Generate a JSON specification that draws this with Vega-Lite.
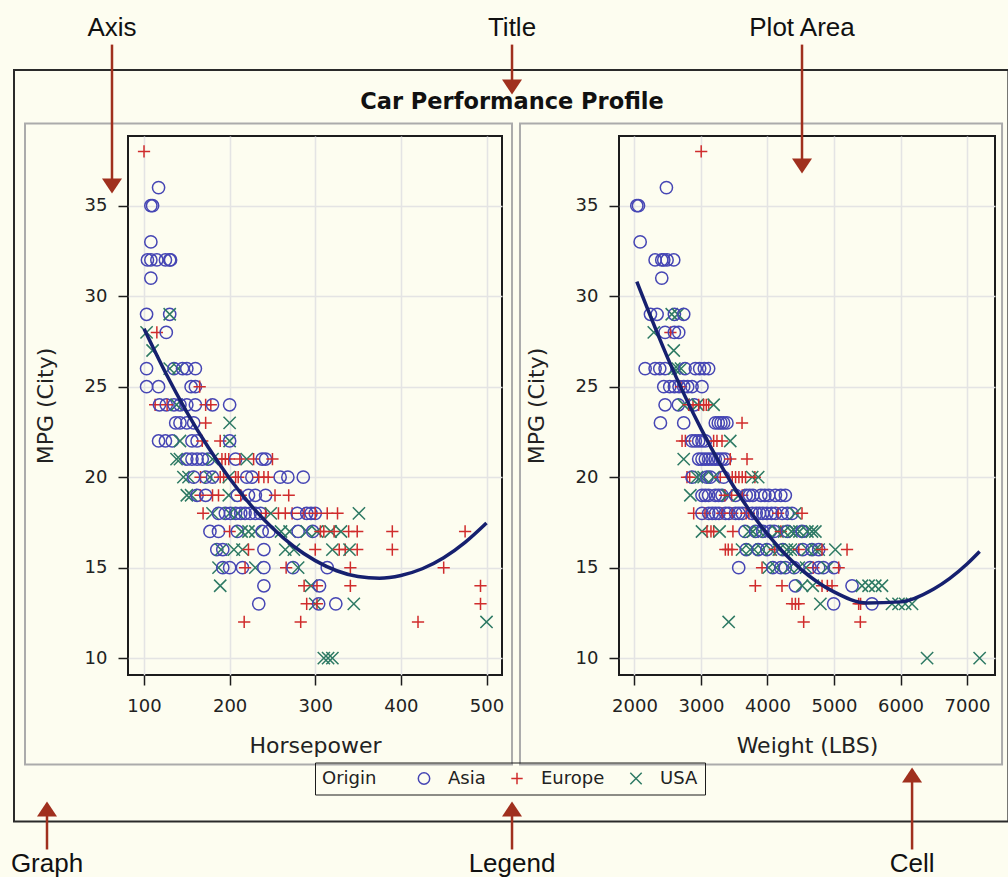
{
  "$schema": "https://vega.github.io/schema/vega-lite/v6.json",
  "background": "#FDFDF0",
  "padding": 0,
  "bounds": "flush",
  "spacing": 117,
  "datasets": {
    "hpPoints": [
      {"origin":"Europe","hp":100,"mpg":38},
      {"origin":"Asia","hp":117,"mpg":36},
      {"origin":"Asia","hp":108,"mpg":35},{"origin":"Asia","hp":110,"mpg":35},
      {"origin":"Asia","hp":108,"mpg":33},
      {"origin":"Asia","hp":104,"mpg":32},{"origin":"Asia","hp":108,"mpg":32},{"origin":"Asia","hp":115,"mpg":32},{"origin":"Asia","hp":125,"mpg":32},{"origin":"Asia","hp":130,"mpg":32},{"origin":"Asia","hp":131,"mpg":32},
      {"origin":"Asia","hp":108,"mpg":31},
      {"origin":"Asia","hp":103,"mpg":29},{"origin":"Asia","hp":130,"mpg":29},{"origin":"USA","hp":130,"mpg":29},
      {"origin":"USA","hp":103,"mpg":28},{"origin":"Europe","hp":115,"mpg":28},{"origin":"Asia","hp":126,"mpg":28},
      {"origin":"USA","hp":110,"mpg":27},
      {"origin":"Asia","hp":103,"mpg":26},{"origin":"USA","hp":130,"mpg":26},{"origin":"Asia","hp":135,"mpg":26},{"origin":"USA","hp":140,"mpg":26},{"origin":"Asia","hp":145,"mpg":26},{"origin":"Asia","hp":150,"mpg":26},{"origin":"Asia","hp":160,"mpg":26},
      {"origin":"Asia","hp":103,"mpg":25},{"origin":"Asia","hp":117,"mpg":25},{"origin":"Asia","hp":155,"mpg":25},{"origin":"Asia","hp":160,"mpg":25},{"origin":"Europe","hp":165,"mpg":25},
      {"origin":"Europe","hp":113,"mpg":24},{"origin":"Asia","hp":118,"mpg":24},{"origin":"Asia","hp":126,"mpg":24},{"origin":"Europe","hp":127,"mpg":24},{"origin":"Asia","hp":135,"mpg":24},{"origin":"USA","hp":138,"mpg":24},{"origin":"Asia","hp":142,"mpg":24},{"origin":"Asia","hp":150,"mpg":24},{"origin":"Asia","hp":160,"mpg":24},{"origin":"Europe","hp":172,"mpg":24},{"origin":"Europe","hp":178,"mpg":24},{"origin":"Asia","hp":180,"mpg":24},{"origin":"Asia","hp":200,"mpg":24},
      {"origin":"Asia","hp":137,"mpg":23},{"origin":"Asia","hp":142,"mpg":23},{"origin":"Asia","hp":150,"mpg":23},{"origin":"Asia","hp":158,"mpg":23},{"origin":"Europe","hp":172,"mpg":23},{"origin":"USA","hp":200,"mpg":23},
      {"origin":"Asia","hp":117,"mpg":22},{"origin":"Asia","hp":125,"mpg":22},{"origin":"Asia","hp":133,"mpg":22},{"origin":"USA","hp":142,"mpg":22},{"origin":"Asia","hp":156,"mpg":22},{"origin":"Asia","hp":162,"mpg":22},{"origin":"Europe","hp":168,"mpg":22},{"origin":"Europe","hp":189,"mpg":22},{"origin":"USA","hp":200,"mpg":22},{"origin":"Asia","hp":200,"mpg":22},
      {"origin":"USA","hp":138,"mpg":21},{"origin":"USA","hp":142,"mpg":21},{"origin":"Asia","hp":150,"mpg":21},{"origin":"Asia","hp":156,"mpg":21},{"origin":"Asia","hp":162,"mpg":21},{"origin":"Asia","hp":168,"mpg":21},{"origin":"Asia","hp":175,"mpg":21},{"origin":"USA","hp":180,"mpg":21},{"origin":"Europe","hp":191,"mpg":21},{"origin":"Europe","hp":195,"mpg":21},{"origin":"Europe","hp":199,"mpg":21},{"origin":"Asia","hp":207,"mpg":21},{"origin":"Europe","hp":212,"mpg":21},{"origin":"USA","hp":220,"mpg":21},{"origin":"Europe","hp":228,"mpg":21},{"origin":"Asia","hp":238,"mpg":21},{"origin":"Asia","hp":242,"mpg":21},{"origin":"Europe","hp":250,"mpg":21},
      {"origin":"USA","hp":146,"mpg":20},{"origin":"USA","hp":152,"mpg":20},{"origin":"Asia","hp":158,"mpg":20},{"origin":"Europe","hp":166,"mpg":20},{"origin":"Asia","hp":172,"mpg":20},{"origin":"USA","hp":177,"mpg":20},{"origin":"Asia","hp":180,"mpg":20},{"origin":"Europe","hp":189,"mpg":20},{"origin":"Europe","hp":193,"mpg":20},{"origin":"USA","hp":199,"mpg":20},{"origin":"Europe","hp":207,"mpg":20},{"origin":"Europe","hp":210,"mpg":20},{"origin":"Asia","hp":220,"mpg":20},{"origin":"Asia","hp":226,"mpg":20},{"origin":"Europe","hp":234,"mpg":20},{"origin":"Europe","hp":240,"mpg":20},{"origin":"Europe","hp":245,"mpg":20},{"origin":"Asia","hp":259,"mpg":20},{"origin":"Asia","hp":268,"mpg":20},{"origin":"Asia","hp":286,"mpg":20},
      {"origin":"USA","hp":150,"mpg":19},{"origin":"USA","hp":155,"mpg":19},{"origin":"Asia","hp":162,"mpg":19},{"origin":"Europe","hp":166,"mpg":19},{"origin":"Asia","hp":172,"mpg":19},{"origin":"Europe","hp":180,"mpg":19},{"origin":"Europe","hp":187,"mpg":19},{"origin":"USA","hp":199,"mpg":19},{"origin":"Asia","hp":209,"mpg":19},{"origin":"Europe","hp":213,"mpg":19},{"origin":"Asia","hp":222,"mpg":19},{"origin":"Asia","hp":230,"mpg":19},{"origin":"Asia","hp":242,"mpg":19},{"origin":"Europe","hp":253,"mpg":19},{"origin":"Europe","hp":269,"mpg":19},
      {"origin":"Europe","hp":169,"mpg":18},{"origin":"USA","hp":180,"mpg":18},{"origin":"Asia","hp":187,"mpg":18},{"origin":"Asia","hp":195,"mpg":18},{"origin":"USA","hp":200,"mpg":18},{"origin":"Asia","hp":201,"mpg":18},{"origin":"Asia","hp":207,"mpg":18},{"origin":"USA","hp":210,"mpg":18},{"origin":"Asia","hp":213,"mpg":18},{"origin":"Asia","hp":218,"mpg":18},{"origin":"Asia","hp":224,"mpg":18},{"origin":"Asia","hp":230,"mpg":18},{"origin":"Asia","hp":236,"mpg":18},{"origin":"Europe","hp":242,"mpg":18},{"origin":"USA","hp":248,"mpg":18},{"origin":"Europe","hp":257,"mpg":18},{"origin":"Europe","hp":265,"mpg":18},{"origin":"Europe","hp":273,"mpg":18},{"origin":"Asia","hp":279,"mpg":18},{"origin":"Europe","hp":287,"mpg":18},{"origin":"Asia","hp":290,"mpg":18},{"origin":"Asia","hp":295,"mpg":18},{"origin":"Asia","hp":300,"mpg":18},{"origin":"Europe","hp":300,"mpg":18},{"origin":"Europe","hp":314,"mpg":18},{"origin":"Europe","hp":326,"mpg":18},{"origin":"USA","hp":351,"mpg":18},
      {"origin":"Asia","hp":177,"mpg":17},{"origin":"Asia","hp":187,"mpg":17},{"origin":"Europe","hp":200,"mpg":17},{"origin":"Asia","hp":209,"mpg":17},{"origin":"USA","hp":214,"mpg":17},{"origin":"USA","hp":222,"mpg":17},{"origin":"USA","hp":230,"mpg":17},{"origin":"Asia","hp":238,"mpg":17},{"origin":"Asia","hp":246,"mpg":17},{"origin":"USA","hp":260,"mpg":17},{"origin":"USA","hp":270,"mpg":17},{"origin":"Asia","hp":280,"mpg":17},{"origin":"USA","hp":290,"mpg":17},{"origin":"Asia","hp":297,"mpg":17},{"origin":"USA","hp":302,"mpg":17},{"origin":"Europe","hp":306,"mpg":17},{"origin":"Europe","hp":310,"mpg":17},{"origin":"USA","hp":318,"mpg":17},{"origin":"Europe","hp":322,"mpg":17},{"origin":"USA","hp":330,"mpg":17},{"origin":"Europe","hp":339,"mpg":17},{"origin":"Europe","hp":349,"mpg":17},{"origin":"Europe","hp":390,"mpg":17},{"origin":"Europe","hp":475,"mpg":17},
      {"origin":"Asia","hp":185,"mpg":16},{"origin":"USA","hp":190,"mpg":16},{"origin":"Asia","hp":192,"mpg":16},{"origin":"USA","hp":205,"mpg":16},{"origin":"USA","hp":215,"mpg":16},{"origin":"Europe","hp":222,"mpg":16},{"origin":"Asia","hp":240,"mpg":16},{"origin":"USA","hp":265,"mpg":16},{"origin":"USA","hp":275,"mpg":16},{"origin":"Europe","hp":300,"mpg":16},{"origin":"USA","hp":320,"mpg":16},{"origin":"Europe","hp":328,"mpg":16},{"origin":"Europe","hp":335,"mpg":16},{"origin":"USA","hp":340,"mpg":16},{"origin":"Europe","hp":349,"mpg":16},{"origin":"Europe","hp":390,"mpg":16},
      {"origin":"USA","hp":187,"mpg":15},{"origin":"Asia","hp":192,"mpg":15},{"origin":"Asia","hp":200,"mpg":15},{"origin":"Asia","hp":215,"mpg":15},{"origin":"Europe","hp":218,"mpg":15},{"origin":"USA","hp":230,"mpg":15},{"origin":"Asia","hp":240,"mpg":15},{"origin":"Europe","hp":266,"mpg":15},{"origin":"Asia","hp":274,"mpg":15},{"origin":"USA","hp":280,"mpg":15},{"origin":"Asia","hp":314,"mpg":15},{"origin":"Europe","hp":341,"mpg":15},{"origin":"Europe","hp":450,"mpg":15},
      {"origin":"USA","hp":189,"mpg":14},{"origin":"Asia","hp":240,"mpg":14},{"origin":"Europe","hp":287,"mpg":14},{"origin":"USA","hp":295,"mpg":14},{"origin":"Europe","hp":302,"mpg":14},{"origin":"Asia","hp":305,"mpg":14},{"origin":"Europe","hp":341,"mpg":14},{"origin":"Europe","hp":493,"mpg":14},
      {"origin":"Asia","hp":234,"mpg":13},{"origin":"Europe","hp":290,"mpg":13},{"origin":"USA","hp":300,"mpg":13},{"origin":"Europe","hp":302,"mpg":13},{"origin":"Asia","hp":304,"mpg":13},{"origin":"Asia","hp":324,"mpg":13},{"origin":"USA","hp":345,"mpg":13},{"origin":"Europe","hp":493,"mpg":13},
      {"origin":"Europe","hp":217,"mpg":12},{"origin":"Europe","hp":283,"mpg":12},{"origin":"Europe","hp":420,"mpg":12},{"origin":"USA","hp":500,"mpg":12},
      {"origin":"USA","hp":310,"mpg":10},{"origin":"USA","hp":315,"mpg":10},{"origin":"USA","hp":320,"mpg":10}
    ],
    "hpFit": [
      {"hp":100,"mpg":28.2},{"hp":125,"mpg":25.78},{"hp":150,"mpg":23.6},{"hp":175,"mpg":21.65},{"hp":200,"mpg":19.93},{"hp":225,"mpg":18.44},{"hp":250,"mpg":17.19},{"hp":275,"mpg":16.17},{"hp":300,"mpg":15.39},{"hp":325,"mpg":14.83},{"hp":350,"mpg":14.51},{"hp":375,"mpg":14.42},{"hp":400,"mpg":14.57},{"hp":425,"mpg":14.94},{"hp":450,"mpg":15.55},{"hp":475,"mpg":16.4},{"hp":500,"mpg":17.47}
    ],
    "wtPoints": [
      {"origin":"Europe","weight":3003,"mpg":38},
      {"origin":"Asia","weight":2480,"mpg":36},
      {"origin":"Asia","weight":2035,"mpg":35},{"origin":"Asia","weight":2060,"mpg":35},
      {"origin":"Asia","weight":2085,"mpg":33},
      {"origin":"Asia","weight":2310,"mpg":32},{"origin":"Asia","weight":2410,"mpg":32},{"origin":"Asia","weight":2440,"mpg":32},{"origin":"Asia","weight":2490,"mpg":32},{"origin":"Asia","weight":2590,"mpg":32},
      {"origin":"Asia","weight":2410,"mpg":31},
      {"origin":"Asia","weight":2240,"mpg":29},{"origin":"Asia","weight":2340,"mpg":29},{"origin":"USA","weight":2560,"mpg":29},{"origin":"Asia","weight":2600,"mpg":29},{"origin":"USA","weight":2650,"mpg":29},{"origin":"Asia","weight":2740,"mpg":29},
      {"origin":"USA","weight":2290,"mpg":28},{"origin":"Asia","weight":2460,"mpg":28},{"origin":"Europe","weight":2540,"mpg":28},{"origin":"Asia","weight":2600,"mpg":28},{"origin":"Asia","weight":2665,"mpg":28},
      {"origin":"USA","weight":2590,"mpg":27},
      {"origin":"Asia","weight":2160,"mpg":26},{"origin":"Asia","weight":2310,"mpg":26},{"origin":"Asia","weight":2380,"mpg":26},{"origin":"Asia","weight":2460,"mpg":26},{"origin":"USA","weight":2600,"mpg":26},{"origin":"USA","weight":2650,"mpg":26},{"origin":"USA","weight":2700,"mpg":26},{"origin":"Asia","weight":2760,"mpg":26},{"origin":"Asia","weight":2915,"mpg":26},{"origin":"Asia","weight":2980,"mpg":26},{"origin":"Asia","weight":3050,"mpg":26},{"origin":"Asia","weight":3115,"mpg":26},
      {"origin":"Asia","weight":2440,"mpg":25},{"origin":"Asia","weight":2530,"mpg":25},{"origin":"Asia","weight":2600,"mpg":25},{"origin":"Asia","weight":2670,"mpg":25},{"origin":"Europe","weight":2700,"mpg":25},{"origin":"Asia","weight":2740,"mpg":25},{"origin":"Asia","weight":2800,"mpg":25},{"origin":"Asia","weight":2865,"mpg":25},{"origin":"Asia","weight":3015,"mpg":25},
      {"origin":"Asia","weight":2460,"mpg":24},{"origin":"Asia","weight":2660,"mpg":24},{"origin":"USA","weight":2740,"mpg":24},{"origin":"Europe","weight":2815,"mpg":24},{"origin":"Europe","weight":2880,"mpg":24},{"origin":"Asia","weight":2900,"mpg":24},{"origin":"USA","weight":2950,"mpg":24},{"origin":"Europe","weight":2965,"mpg":24},{"origin":"Europe","weight":3040,"mpg":24},{"origin":"Europe","weight":3080,"mpg":24},{"origin":"Europe","weight":3116,"mpg":24},{"origin":"USA","weight":3190,"mpg":24},
      {"origin":"Asia","weight":2390,"mpg":23},{"origin":"Asia","weight":2740,"mpg":23},{"origin":"Asia","weight":3215,"mpg":23},{"origin":"Asia","weight":3260,"mpg":23},{"origin":"Asia","weight":3300,"mpg":23},{"origin":"Asia","weight":3340,"mpg":23},{"origin":"Asia","weight":3390,"mpg":23},{"origin":"Europe","weight":3617,"mpg":23},
      {"origin":"Europe","weight":2715,"mpg":22},{"origin":"Europe","weight":2765,"mpg":22},{"origin":"Asia","weight":2865,"mpg":22},{"origin":"Asia","weight":2915,"mpg":22},{"origin":"Asia","weight":2965,"mpg":22},{"origin":"Asia","weight":3015,"mpg":22},{"origin":"Asia","weight":3065,"mpg":22},{"origin":"Europe","weight":3190,"mpg":22},{"origin":"Europe","weight":3240,"mpg":22},{"origin":"Europe","weight":3316,"mpg":22},{"origin":"USA","weight":3440,"mpg":22},
      {"origin":"USA","weight":2740,"mpg":21},{"origin":"Asia","weight":2965,"mpg":21},{"origin":"Asia","weight":3015,"mpg":21},{"origin":"Asia","weight":3065,"mpg":21},{"origin":"Asia","weight":3115,"mpg":21},{"origin":"Asia","weight":3165,"mpg":21},{"origin":"Asia","weight":3215,"mpg":21},{"origin":"Asia","weight":3265,"mpg":21},{"origin":"Asia","weight":3315,"mpg":21},{"origin":"Asia","weight":3365,"mpg":21},{"origin":"Europe","weight":3440,"mpg":21},{"origin":"Europe","weight":3692,"mpg":21},
      {"origin":"Europe","weight":2790,"mpg":20},{"origin":"Europe","weight":2830,"mpg":20},{"origin":"Asia","weight":2865,"mpg":20},{"origin":"USA","weight":2940,"mpg":20},{"origin":"USA","weight":3000,"mpg":20},{"origin":"USA","weight":3040,"mpg":20},{"origin":"Asia","weight":3090,"mpg":20},{"origin":"Asia","weight":3140,"mpg":20},{"origin":"USA","weight":3190,"mpg":20},{"origin":"Europe","weight":3290,"mpg":20},{"origin":"Asia","weight":3340,"mpg":20},{"origin":"Europe","weight":3470,"mpg":20},{"origin":"Europe","weight":3520,"mpg":20},{"origin":"Europe","weight":3570,"mpg":20},{"origin":"Europe","weight":3620,"mpg":20},{"origin":"Europe","weight":3670,"mpg":20},{"origin":"USA","weight":3770,"mpg":20},{"origin":"Europe","weight":3810,"mpg":20},{"origin":"USA","weight":3860,"mpg":20},
      {"origin":"USA","weight":2840,"mpg":19},{"origin":"Asia","weight":3015,"mpg":19},{"origin":"Asia","weight":3065,"mpg":19},{"origin":"Asia","weight":3115,"mpg":19},{"origin":"Asia","weight":3215,"mpg":19},{"origin":"Asia","weight":3265,"mpg":19},{"origin":"Asia","weight":3316,"mpg":19},{"origin":"Europe","weight":3360,"mpg":19},{"origin":"USA","weight":3400,"mpg":19},{"origin":"Europe","weight":3460,"mpg":19},{"origin":"Asia","weight":3520,"mpg":19},{"origin":"USA","weight":3570,"mpg":19},{"origin":"Europe","weight":3620,"mpg":19},{"origin":"Asia","weight":3680,"mpg":19},{"origin":"Asia","weight":3730,"mpg":19},{"origin":"Asia","weight":3780,"mpg":19},{"origin":"Asia","weight":3900,"mpg":19},{"origin":"Asia","weight":3960,"mpg":19},{"origin":"Asia","weight":4020,"mpg":19},{"origin":"Asia","weight":4118,"mpg":19},{"origin":"Asia","weight":4200,"mpg":19},{"origin":"Asia","weight":4268,"mpg":19},
      {"origin":"Europe","weight":2890,"mpg":18},{"origin":"Asia","weight":3015,"mpg":18},{"origin":"Europe","weight":3060,"mpg":18},{"origin":"Asia","weight":3116,"mpg":18},{"origin":"Asia","weight":3170,"mpg":18},{"origin":"Asia","weight":3220,"mpg":18},{"origin":"Asia","weight":3270,"mpg":18},{"origin":"Europe","weight":3320,"mpg":18},{"origin":"Asia","weight":3370,"mpg":18},{"origin":"Asia","weight":3420,"mpg":18},{"origin":"Europe","weight":3470,"mpg":18},{"origin":"Asia","weight":3520,"mpg":18},{"origin":"Asia","weight":3570,"mpg":18},{"origin":"Asia","weight":3620,"mpg":18},{"origin":"Europe","weight":3680,"mpg":18},{"origin":"Europe","weight":3720,"mpg":18},{"origin":"Asia","weight":3770,"mpg":18},{"origin":"Asia","weight":3830,"mpg":18},{"origin":"Asia","weight":3880,"mpg":18},{"origin":"Asia","weight":3930,"mpg":18},{"origin":"Asia","weight":3990,"mpg":18},{"origin":"Asia","weight":4060,"mpg":18},{"origin":"Asia","weight":4120,"mpg":18},{"origin":"Europe","weight":4160,"mpg":18},{"origin":"Asia","weight":4220,"mpg":18},{"origin":"Asia","weight":4300,"mpg":18},{"origin":"Asia","weight":4369,"mpg":18},{"origin":"USA","weight":4419,"mpg":18},{"origin":"Europe","weight":4519,"mpg":18},
      {"origin":"USA","weight":3015,"mpg":17},{"origin":"Europe","weight":3090,"mpg":17},{"origin":"Europe","weight":3150,"mpg":17},{"origin":"Europe","weight":3191,"mpg":17},{"origin":"USA","weight":3280,"mpg":17},{"origin":"Europe","weight":3480,"mpg":17},{"origin":"Asia","weight":3662,"mpg":17},{"origin":"USA","weight":3720,"mpg":17},{"origin":"USA","weight":3780,"mpg":17},{"origin":"Asia","weight":3820,"mpg":17},{"origin":"USA","weight":3880,"mpg":17},{"origin":"Asia","weight":3930,"mpg":17},{"origin":"USA","weight":3990,"mpg":17},{"origin":"Asia","weight":4040,"mpg":17},{"origin":"Asia","weight":4100,"mpg":17},{"origin":"USA","weight":4150,"mpg":17},{"origin":"Europe","weight":4200,"mpg":17},{"origin":"USA","weight":4250,"mpg":17},{"origin":"Asia","weight":4300,"mpg":17},{"origin":"USA","weight":4360,"mpg":17},{"origin":"USA","weight":4420,"mpg":17},{"origin":"USA","weight":4480,"mpg":17},{"origin":"Asia","weight":4520,"mpg":17},{"origin":"USA","weight":4600,"mpg":17},{"origin":"USA","weight":4669,"mpg":17},{"origin":"USA","weight":4720,"mpg":17},
      {"origin":"Europe","weight":3366,"mpg":16},{"origin":"Europe","weight":3410,"mpg":16},{"origin":"Europe","weight":3466,"mpg":16},{"origin":"USA","weight":3617,"mpg":16},{"origin":"Asia","weight":3680,"mpg":16},{"origin":"USA","weight":3740,"mpg":16},{"origin":"USA","weight":3800,"mpg":16},{"origin":"Asia","weight":3860,"mpg":16},{"origin":"USA","weight":3920,"mpg":16},{"origin":"Asia","weight":3990,"mpg":16},{"origin":"USA","weight":4050,"mpg":16},{"origin":"Europe","weight":4110,"mpg":16},{"origin":"USA","weight":4170,"mpg":16},{"origin":"Asia","weight":4230,"mpg":16},{"origin":"USA","weight":4290,"mpg":16},{"origin":"USA","weight":4350,"mpg":16},{"origin":"USA","weight":4410,"mpg":16},{"origin":"Europe","weight":4470,"mpg":16},{"origin":"Asia","weight":4530,"mpg":16},{"origin":"USA","weight":4600,"mpg":16},{"origin":"Asia","weight":4669,"mpg":16},{"origin":"USA","weight":4720,"mpg":16},{"origin":"USA","weight":4770,"mpg":16},{"origin":"Asia","weight":4770,"mpg":16},{"origin":"Europe","weight":4820,"mpg":16},{"origin":"USA","weight":5020,"mpg":16},{"origin":"Europe","weight":5196,"mpg":16},
      {"origin":"Asia","weight":3567,"mpg":15},{"origin":"Europe","weight":3918,"mpg":15},{"origin":"USA","weight":4018,"mpg":15},{"origin":"Asia","weight":4080,"mpg":15},{"origin":"USA","weight":4130,"mpg":15},{"origin":"Asia","weight":4200,"mpg":15},{"origin":"Asia","weight":4268,"mpg":15},{"origin":"USA","weight":4330,"mpg":15},{"origin":"Asia","weight":4400,"mpg":15},{"origin":"USA","weight":4470,"mpg":15},{"origin":"USA","weight":4580,"mpg":15},{"origin":"Asia","weight":4640,"mpg":15},{"origin":"Europe","weight":4690,"mpg":15},{"origin":"Asia","weight":4770,"mpg":15},{"origin":"Asia","weight":4840,"mpg":15},{"origin":"USA","weight":4900,"mpg":15},{"origin":"Asia","weight":5000,"mpg":15},{"origin":"Europe","weight":5070,"mpg":15},
      {"origin":"Europe","weight":3817,"mpg":14},{"origin":"Europe","weight":4218,"mpg":14},{"origin":"Asia","weight":4419,"mpg":14},{"origin":"USA","weight":4520,"mpg":14},{"origin":"USA","weight":4680,"mpg":14},{"origin":"Europe","weight":4820,"mpg":14},{"origin":"Europe","weight":4900,"mpg":14},{"origin":"Europe","weight":4970,"mpg":14},{"origin":"Asia","weight":5271,"mpg":14},{"origin":"USA","weight":5421,"mpg":14},{"origin":"USA","weight":5520,"mpg":14},{"origin":"USA","weight":5621,"mpg":14},{"origin":"USA","weight":5721,"mpg":14},
      {"origin":"Europe","weight":4369,"mpg":13},{"origin":"Europe","weight":4420,"mpg":13},{"origin":"Europe","weight":4469,"mpg":13},{"origin":"USA","weight":4795,"mpg":13},{"origin":"Asia","weight":4995,"mpg":13},{"origin":"Europe","weight":5371,"mpg":13},{"origin":"Europe","weight":5400,"mpg":13},{"origin":"Asia","weight":5571,"mpg":13},{"origin":"USA","weight":5872,"mpg":13},{"origin":"USA","weight":5970,"mpg":13},{"origin":"USA","weight":6070,"mpg":13},{"origin":"USA","weight":6173,"mpg":13},
      {"origin":"USA","weight":3416,"mpg":12},{"origin":"Europe","weight":4544,"mpg":12},{"origin":"Europe","weight":5396,"mpg":12},
      {"origin":"USA","weight":6400,"mpg":10},{"origin":"USA","weight":7190,"mpg":10}
    ],
    "wtFit": [
      {"weight":2035,"mpg":30.8},{"weight":2500,"mpg":26.58},{"weight":3000,"mpg":22.68},{"weight":3500,"mpg":19.43},{"weight":4000,"mpg":16.85},{"weight":4500,"mpg":14.92},{"weight":5000,"mpg":13.66},{"weight":5500,"mpg":13.05},{"weight":6000,"mpg":13.11},{"weight":6500,"mpg":13.82},{"weight":7000,"mpg":15.2},{"weight":7190,"mpg":15.89}
    ]
  },
  "hconcat": [
    {
      "width": 374,
      "height": 539,
      "data": {"values": [{}]},
      "layer": [
        {
          "mark": {"type": "rect", "opacity": 0, "clip": false},
          "encoding": {
            "x": {"datum": -65.86, "scale": {"domain": [81.3, 518.1], "nice": false, "zero": false}},
            "x2": {"datum": 1111.4},
            "y": {"datum": 46.28, "scale": {"domain": [9.07, 38.85], "nice": false, "zero": false}},
            "y2": {"datum": -2.17}
          }
        },
        {
          "mark": {"type": "rect", "fill": null, "fillOpacity": 0, "stroke": "#2a2a2a", "strokeWidth": 2, "clip": false},
          "encoding": {"x": {"datum": -51.84}, "x2": {"datum": 1109.5}, "y": {"datum": 42.5}, "y2": {"datum": 0.98}}
        },
        {
          "mark": {"type": "rect", "fill": null, "fillOpacity": 0, "stroke": "#ABABAB", "strokeWidth": 2, "clip": false},
          "encoding": {"x": {"datum": -38.99}, "x2": {"datum": 529.8}, "y": {"datum": 39.54}, "y2": {"datum": 4.13}}
        },
        {
          "data": {"name": "hpPoints"},
          "mark": {"type": "point", "filled": false, "size": 150, "strokeWidth": 1.5, "opacity": 1},
          "encoding": {
            "x": {"field": "hp", "type": "quantitative", "scale": {"domain": [81.3, 518.1], "nice": false, "zero": false}, "axis": {"title": "Horsepower", "values": [100, 200, 300, 400, 500], "format": "d"}},
            "y": {"field": "mpg", "type": "quantitative", "scale": {"domain": [9.07, 38.85], "nice": false, "zero": false}, "axis": {"title": "MPG (City)", "values": [10, 15, 20, 25, 30, 35]}},
            "color": {"field": "origin", "type": "nominal", "scale": {"domain": ["Asia", "Europe", "USA"], "range": ["#4646B4", "#D02C2C", "#2E7A64"]}, "legend": {"title": "Origin", "orient": "none", "legendX": 187, "legendY": 626.5, "direction": "horizontal"}},
            "shape": {"field": "origin", "type": "nominal", "scale": {"domain": ["Asia", "Europe", "USA"], "range": ["circle", "M-1,0L1,0M0,-1L0,1", "M-1,-1L1,1M1,-1L-1,1"]}, "legend": {"title": "Origin", "orient": "none", "legendX": 187, "legendY": 626.5, "direction": "horizontal"}}
          }
        },
        {
          "data": {"name": "hpFit"},
          "mark": {"type": "line", "color": "#16206F", "strokeWidth": 3.5, "interpolate": "monotone"},
          "encoding": {"x": {"field": "hp", "type": "quantitative"}, "y": {"field": "mpg", "type": "quantitative"}}
        },
        {
          "mark": {"type": "text", "font": "DejaVu Sans", "fontSize": 22.5, "fontWeight": "bold", "color": "#111111", "align": "center", "baseline": "alphabetic", "clip": false},
          "encoding": {"x": {"datum": 529.8}, "y": {"datum": 40.36}, "text": {"value": "Car Performance Profile"}}
        },
        {
          "mark": {"type": "text", "font": "Liberation Sans", "fontSize": 26, "color": "#111111", "align": "center", "baseline": "alphabetic", "clip": false},
          "encoding": {"x": {"datum": 62.61}, "y": {"datum": 44.4}, "text": {"value": "Axis"}}
        },
        {
          "mark": {"type": "text", "font": "Liberation Sans", "fontSize": 26, "color": "#111111", "align": "center", "baseline": "alphabetic", "clip": false},
          "encoding": {"x": {"datum": 529.8}, "y": {"datum": 44.4}, "text": {"value": "Title"}}
        },
        {
          "mark": {"type": "text", "font": "Liberation Sans", "fontSize": 26, "color": "#111111", "align": "center", "baseline": "alphabetic", "clip": false},
          "encoding": {"x": {"datum": -13.3}, "y": {"datum": -1.8}, "text": {"value": "Graph"}}
        },
        {
          "mark": {"type": "text", "font": "Liberation Sans", "fontSize": 26, "color": "#111111", "align": "center", "baseline": "alphabetic", "clip": false},
          "encoding": {"x": {"datum": 529.8}, "y": {"datum": -1.8}, "text": {"value": "Legend"}}
        },
        {
          "mark": {"type": "rule", "color": "#A0301E", "strokeWidth": 2.5, "clip": false},
          "encoding": {"x": {"datum": 62.61}, "y": {"datum": 43.9}, "y2": {"datum": 36.3}}
        },
        {
          "mark": {"type": "point", "shape": "M-1,-0.75L1,-0.75L0,0.75Z", "filled": true, "size": 400, "color": "#A0301E", "strokeWidth": 0, "opacity": 1, "clip": false},
          "encoding": {"x": {"datum": 62.61}, "y": {"datum": 36.09}}
        },
        {
          "mark": {"type": "rule", "color": "#A0301E", "strokeWidth": 2.5, "clip": false},
          "encoding": {"x": {"datum": 529.8}, "y": {"datum": 43.9}, "y2": {"datum": 41.8}}
        },
        {
          "mark": {"type": "point", "shape": "M-1,-0.75L1,-0.75L0,0.75Z", "filled": true, "size": 400, "color": "#A0301E", "strokeWidth": 0, "opacity": 1, "clip": false},
          "encoding": {"x": {"datum": 529.8}, "y": {"datum": 41.56}}
        },
        {
          "mark": {"type": "rule", "color": "#A0301E", "strokeWidth": 2.5, "clip": false},
          "encoding": {"x": {"datum": -13.3}, "y": {"datum": 1.5}, "y2": {"datum": -0.57}}
        },
        {
          "mark": {"type": "point", "shape": "M-1,0.75L1,0.75L0,-0.75Z", "filled": true, "size": 400, "color": "#A0301E", "strokeWidth": 0, "opacity": 1, "clip": false},
          "encoding": {"x": {"datum": -13.3}, "y": {"datum": 1.67}}
        },
        {
          "mark": {"type": "rule", "color": "#A0301E", "strokeWidth": 2.5, "clip": false},
          "encoding": {"x": {"datum": 529.8}, "y": {"datum": 1.5}, "y2": {"datum": -0.57}}
        },
        {
          "mark": {"type": "point", "shape": "M-1,0.75L1,0.75L0,-0.75Z", "filled": true, "size": 400, "color": "#A0301E", "strokeWidth": 0, "opacity": 1, "clip": false},
          "encoding": {"x": {"datum": 529.8}, "y": {"datum": 1.67}}
        }
      ]
    },
    {
      "width": 376,
      "height": 539,
      "data": {"values": [{}]},
      "layer": [
        {
          "mark": {"type": "rect", "fill": null, "fillOpacity": 0, "stroke": "#ABABAB", "strokeWidth": 2, "clip": false},
          "encoding": {
            "x": {"datum": 278, "scale": {"domain": [1767, 7421], "nice": false, "zero": false}},
            "x2": {"datum": 7527},
            "y": {"datum": 39.54, "scale": {"domain": [9.07, 38.85], "nice": false, "zero": false}},
            "y2": {"datum": 4.13}
          }
        },
        {
          "data": {"name": "wtPoints"},
          "mark": {"type": "point", "filled": false, "size": 150, "strokeWidth": 1.5, "opacity": 1},
          "encoding": {
            "x": {"field": "weight", "type": "quantitative", "scale": {"domain": [1767, 7421], "nice": false, "zero": false}, "axis": {"title": "Weight (LBS)", "values": [2000, 3000, 4000, 5000, 6000, 7000], "format": "d"}},
            "y": {"field": "mpg", "type": "quantitative", "scale": {"domain": [9.07, 38.85], "nice": false, "zero": false}, "axis": {"title": "MPG (City)", "values": [10, 15, 20, 25, 30, 35]}},
            "color": {"field": "origin", "type": "nominal", "scale": {"domain": ["Asia", "Europe", "USA"], "range": ["#4646B4", "#D02C2C", "#2E7A64"]}, "legend": {"title": "Origin", "orient": "none", "legendX": 187, "legendY": 626.5, "direction": "horizontal"}},
            "shape": {"field": "origin", "type": "nominal", "scale": {"domain": ["Asia", "Europe", "USA"], "range": ["circle", "M-1,0L1,0M0,-1L0,1", "M-1,-1L1,1M1,-1L-1,1"]}, "legend": {"title": "Origin", "orient": "none", "legendX": 187, "legendY": 626.5, "direction": "horizontal"}}
          }
        },
        {
          "data": {"name": "wtFit"},
          "mark": {"type": "line", "color": "#16206F", "strokeWidth": 3.5, "interpolate": "monotone"},
          "encoding": {"x": {"field": "weight", "type": "quantitative"}, "y": {"field": "mpg", "type": "quantitative"}}
        },
        {
          "mark": {"type": "text", "font": "Liberation Sans", "fontSize": 26, "color": "#111111", "align": "center", "baseline": "alphabetic", "clip": false},
          "encoding": {"x": {"datum": 4519}, "y": {"datum": 44.4}, "text": {"value": "Plot Area"}}
        },
        {
          "mark": {"type": "text", "font": "Liberation Sans", "fontSize": 26, "color": "#111111", "align": "center", "baseline": "alphabetic", "clip": false},
          "encoding": {"x": {"datum": 6174}, "y": {"datum": -1.8}, "text": {"value": "Cell"}}
        },
        {
          "mark": {"type": "rule", "color": "#A0301E", "strokeWidth": 2.5, "clip": false},
          "encoding": {"x": {"datum": 4519}, "y": {"datum": 43.9}, "y2": {"datum": 37.4}}
        },
        {
          "mark": {"type": "point", "shape": "M-1,-0.75L1,-0.75L0,0.75Z", "filled": true, "size": 400, "color": "#A0301E", "strokeWidth": 0, "opacity": 1, "clip": false},
          "encoding": {"x": {"datum": 4519}, "y": {"datum": 37.19}}
        },
        {
          "mark": {"type": "rule", "color": "#A0301E", "strokeWidth": 2.5, "clip": false},
          "encoding": {"x": {"datum": 6174}, "y": {"datum": 3.4}, "y2": {"datum": -0.57}}
        },
        {
          "mark": {"type": "point", "shape": "M-1,0.75L1,0.75L0,-0.75Z", "filled": true, "size": 400, "color": "#A0301E", "strokeWidth": 0, "opacity": 1, "clip": false},
          "encoding": {"x": {"datum": 6174}, "y": {"datum": 3.55}}
        }
      ]
    }
  ],
  "config": {
    "view": {"stroke": "#1c1c1c", "strokeWidth": 2},
    "axis": {
      "domain": false,
      "grid": true,
      "gridColor": "#E4E4E4",
      "gridWidth": 1.5,
      "ticks": true,
      "tickColor": "#1c1c1c",
      "tickSize": 10,
      "tickWidth": 1.5,
      "labelFont": "DejaVu Sans",
      "labelFontSize": 18,
      "labelColor": "#222222",
      "labelPadding": 12,
      "labelFlush": false,
      "labelOverlap": false,
      "titleFont": "DejaVu Sans",
      "titleFontSize": 22,
      "titleFontWeight": "normal",
      "titleColor": "#222222"
    },
    "axisX": {"titlePadding": 20},
    "axisY": {"titlePadding": 27, "labelPadding": 11},
    "legend": {
      "titleFont": "DejaVu Sans",
      "titleFontSize": 18,
      "titleFontWeight": "normal",
      "titleColor": "#222222",
      "titleOrient": "left",
      "titlePadding": 38,
      "labelFont": "DejaVu Sans",
      "labelFontSize": 18,
      "labelColor": "#222222",
      "labelOffset": 15,
      "columnPadding": 22,
      "symbolSize": 130,
      "symbolStrokeWidth": 1.5,
      "strokeColor": "#1c1c1c",
      "padding": 7
    }
  }
}
